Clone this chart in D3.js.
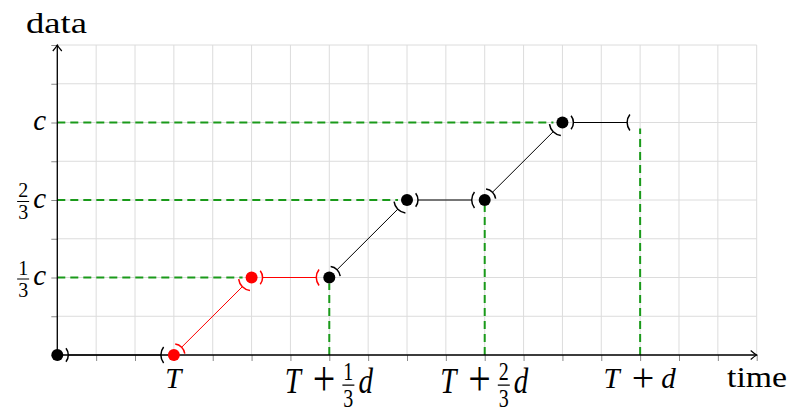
<!DOCTYPE html>
<html>
<head>
<meta charset="utf-8">
<title>Step function with open intervals</title>
<script src="https://cdn.jsdelivr.net/npm/d3@7"></script>
<style>
  body { margin: 0; background: #fff; }
  svg { display: block; }
</style>
</head>
<body>
<div id="chart"></div>
<script>
// grid units on both axes
const timeTicks = d3.range(0, 19);
const dataTicks = d3.range(0, 9);

// labelled ticks ({n/m} = stacked fraction)
const timeLabelAt = [3, 7, 11, 15];
const timeLabels = ["T", "T + {1/3}d", "T + {2/3}d", "T + d"];
const dataLabelAt = [2, 4, 6];
const dataLabels = ["{1/3}c", "{2/3}c", "c"];

// the three pieces of the path
const baseTime = [0, 3];
const baseData = [0, 0];
const redTime = [3, 5, 7];
const redData = [0, 2, 2];
const blackTime = [7, 9, 11, 13, 15];
const blackData = [2, 4, 4, 6, 6];

// green guide lines
const guideHTime = [5, 9, 13];
const guideHData = [2, 4, 6];
const guideVTime = [7, 11, 15];
const guideVData = [2, 4, 6];

const W = 800, H = 417;
const green = "#1a9a1a";
const serif = '"Liberation Serif"';

const svg = d3.select("#chart").append("svg")
  .attr("width", W).attr("height", H);

const x = d3.scaleLinear().domain([0, 18]).range([57.3, 756.7]);
const y = d3.scaleLinear().domain([0, 8]).range([355, 45]);

// grid
const grid = svg.append("g").attr("stroke", "#dcdcdc").attr("stroke-width", 1);
grid.selectAll(".gx").data(timeTicks).join("line")
  .attr("x1", d => x(d)).attr("x2", d => x(d))
  .attr("y1", y(0)).attr("y2", y(8));
grid.selectAll(".gy").data(dataTicks).join("line")
  .attr("y1", d => y(d)).attr("y2", d => y(d))
  .attr("x1", x(0)).attr("x2", x(18));

// tick marks from d3 axes (labels drawn separately)
const xAxis = svg.append("g").attr("transform", `translate(0,${y(0)})`)
  .call(d3.axisBottom(x).tickValues(timeTicks).tickSize(6).tickFormat(""));
const yAxis = svg.append("g").attr("transform", `translate(${x(0)},0)`)
  .call(d3.axisLeft(y).tickValues(dataTicks).tickSize(6).tickFormat(""));
[xAxis, yAxis].forEach(a => {
  a.select(".domain").remove();
  a.selectAll(".tick line").attr("stroke", "#8a8a8a");
});

// green dashed guides
svg.append("g").selectAll("line").data(guideHTime).join("line")
  .attr("x1", x(0)).attr("x2", d => x(d) - 9)
  .attr("y1", (d, i) => y(guideHData[i])).attr("y2", (d, i) => y(guideHData[i]))
  .attr("stroke", green).attr("stroke-width", 2).attr("stroke-dasharray", "8,5");
svg.append("g").selectAll("line").data(guideVTime).join("line")
  .attr("x1", d => x(d)).attr("x2", d => x(d))
  .attr("y1", y(0)).attr("y2", (d, i) => y(guideVData[i]) + 6)
  .attr("stroke", green).attr("stroke-width", 2).attr("stroke-dasharray", "8,5");

// axis lines with arrow tips
svg.append("defs").append("marker")
  .attr("id", "tip").attr("markerUnits", "userSpaceOnUse")
  .attr("viewBox", "-8 -6 10 12").attr("refX", 0).attr("refY", 0)
  .attr("markerWidth", 10).attr("markerHeight", 12).attr("orient", "auto")
  .append("path")
  .attr("d", "M-6,-4.5 Q-2,-1 0,0 Q-2,1 -6,4.5")
  .attr("fill", "none").attr("stroke", "#000").attr("stroke-width", 1.2);

svg.append("line")
  .attr("x1", x(0)).attr("x2", x(18)).attr("y1", y(0)).attr("y2", y(0))
  .attr("stroke", "#000").attr("stroke-width", 1.3).attr("marker-end", "url(#tip)");
svg.append("line")
  .attr("x1", x(0)).attr("x2", x(0)).attr("y1", y(0)).attr("y2", y(8))
  .attr("stroke", "#000").attr("stroke-width", 1.3).attr("marker-end", "url(#tip)");

// each segment: ")" just after its start, "(" just before its end
const rStart = 11, rEnd = 13, spread = 38 * Math.PI / 180;

function arcPath(cx, cy, r, ang) {
  const a0 = ang - spread, a1 = ang + spread;
  return `M${cx + r * Math.cos(a0)},${cy + r * Math.sin(a0)}` +
    `A${r},${r} 0 0 1 ${cx + r * Math.cos(a1)},${cy + r * Math.sin(a1)}`;
}

function drawSeries(ts, vs, color) {
  const pts = ts.map((t, i) => [x(t), y(vs[i])]);
  const segs = d3.pairs(pts);
  const g = svg.append("g").attr("stroke", color).attr("fill", "none");
  segs.forEach(([p0, p1]) => {
    const a = Math.atan2(p1[1] - p0[1], p1[0] - p0[0]);
    const ux = Math.cos(a), uy = Math.sin(a);
    g.append("line")
      .attr("x1", p0[0] + rStart * ux).attr("y1", p0[1] + rStart * uy)
      .attr("x2", p1[0] - rEnd * ux).attr("y2", p1[1] - rEnd * uy)
      .attr("stroke-width", 1);
    g.append("path").attr("d", arcPath(p0[0], p0[1], rStart, a)).attr("stroke-width", 1.5);
    g.append("path").attr("d", arcPath(p1[0], p1[1], rEnd, a + Math.PI)).attr("stroke-width", 1.5);
  });
  // closed end at every point but the last
  svg.append("g").selectAll("circle").data(pts.slice(0, -1)).join("circle")
    .attr("cx", d => d[0]).attr("cy", d => d[1]).attr("r", 6)
    .attr("fill", color);
}

drawSeries(baseTime, baseData, "#000");
drawSeries(blackTime, blackData, "#000");
drawSeries(redTime, redData, "#f00");

// text helper with the serif face set inline
function addText(g, size, italic) {
  const t = g.append("text")
    .attr("font-family", "Liberation Serif")
    .style("font-family", serif)
    .style("font-size", size + "px")
    .attr("fill", "#000");
  if (italic) t.style("font-style", "italic");
  return t;
}

// small math typesetter: italic letters, big plus, stacked fractions
const fs = 29;
function drawMath(g, str) {
  const tokens = str.match(/\{\d\/\d\}|\+|[A-Za-z]/g);
  let cx = 0;
  tokens.forEach(tok => {
    if (tok === "+") {
      cx += 11;
      const t = addText(g, 40, false).attr("x", cx).attr("y", 2.5).text("+");
      cx += t.node().getComputedTextLength() + 7;
    } else if (tok[0] === "{") {
      const [n, m] = tok.slice(1, -1).split("/");
      const num = addText(g, 20, false).attr("text-anchor", "middle").attr("y", -10.5).text(n);
      const den = addText(g, 20, false).attr("text-anchor", "middle").attr("y", 11.5).text(m);
      const w = Math.max(num.node().getComputedTextLength(), den.node().getComputedTextLength()) + 2;
      num.attr("x", cx + w / 2);
      den.attr("x", cx + w / 2);
      g.append("line").attr("x1", cx).attr("x2", cx + w)
        .attr("y1", -6).attr("y2", -6).attr("stroke", "#000").attr("stroke-width", 1);
      cx += w + 4;
    } else {
      const t = addText(g, fs, true).attr("x", cx).attr("y", 0).text(tok);
      cx += t.node().getComputedTextLength() + 1;
    }
  });
  return cx;
}

// time tick labels
timeLabels.forEach((s, i) => {
  const hasFrac = s.includes("{");
  const outer = svg.append("g")
    .attr("transform", hasFrac
      ? `translate(${x(timeLabelAt[i])},371) scale(1,1.25) translate(0,17.3)`
      : `translate(${x(timeLabelAt[i])},388.3)`);
  const inner = outer.append("g");
  const w = drawMath(inner, s);
  inner.attr("transform", `translate(${-w / 2},0)`);
});

// data tick labels
dataLabels.forEach((s, i) => {
  const outer = svg.append("g")
    .attr("transform", `translate(47,${y(dataLabelAt[i]) + 7.5})`);
  const inner = outer.append("g");
  const w = drawMath(inner, s);
  inner.attr("transform", `translate(${-w},0)`);
});

// axis titles
addText(svg, 30, false)
  .attr("x", 26).attr("y", 33)
  .attr("textLength", 61).attr("lengthAdjust", "spacingAndGlyphs").text("data");
addText(svg, 30, false)
  .attr("x", 727).attr("y", 386.7)
  .attr("textLength", 60).attr("lengthAdjust", "spacingAndGlyphs").text("time");
</script>
</body>
</html>
